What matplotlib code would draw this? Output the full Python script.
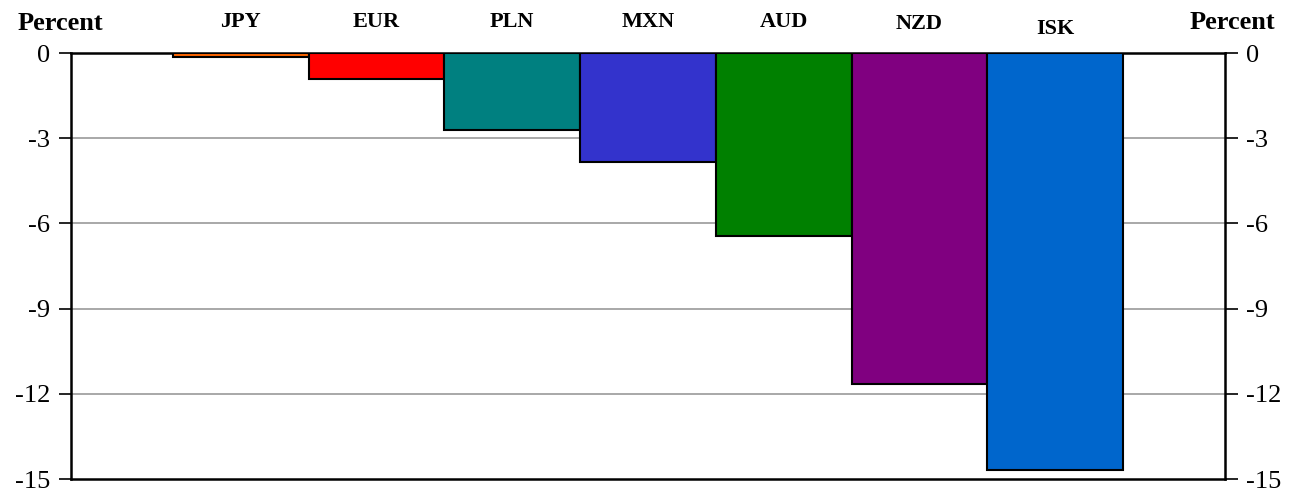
import matplotlib.pyplot as plt
import numpy as np

# currency changes, percent
currencies = ["JPY", "EUR", "PLN", "MXN", "AUD", "NZD", "ISK"]
changes = [-0.15, -0.9, -2.7, -3.85, -6.45, -11.65, -14.7]
bar_colors = ["#FF6600", "#FF0000", "#008080", "#3333CC", "#008000", "#800080", "#0066CC"]
yticks = [0, -3, -6, -9, -12, -15]

plt.rcParams['font.family'] = ['Liberation Serif', 'DejaVu Serif']

W, H = 1297, 490
fig = plt.figure(figsize=(W / 100, H / 100), dpi=100)
ax = fig.add_axes([71 / W, 11 / H, 1154 / W, 426 / H])

x = np.arange(len(currencies))
ax.bar(x, changes, width=1.0, color=bar_colors, edgecolor="black", linewidth=1.5, zorder=3)

ax.set_xlim(-1.25, 7.25)
ax.set_ylim(-15, 0)
ax.set_yticks(yticks)
ax.set_yticklabels([str(t) for t in yticks])
ax.set_xticks([])
ax.tick_params(axis="y", which="both", direction="out", length=9, width=1.2,
               labelsize=19, left=True, right=True, labelleft=True, labelright=True, pad=6)
for t in yticks[1:-1]:
    ax.axhline(t, color="#999999", linewidth=1.2, zorder=1)
for s in ax.spines.values():
    s.set_linewidth(1.8)
    s.set_color("black")

# currency names above the bars (baseline in pixels from top of image)
baselines = [27, 27, 27, 27, 27, 29, 34]
for i, (name, b) in enumerate(zip(currencies, baselines)):
    ax.annotate(name, xy=(i, H - b), xycoords=("data", "figure pixels"),
                ha="center", va="baseline", fontsize=16, fontweight="bold")

fig.text(60 / W, 1 - 30 / H, "Percent", ha="center", va="baseline", fontsize=19, fontweight="bold")
fig.text(1232 / W, 1 - 29 / H, "Percent", ha="center", va="baseline", fontsize=19, fontweight="bold")

fig.savefig("out.png", dpi=100)
